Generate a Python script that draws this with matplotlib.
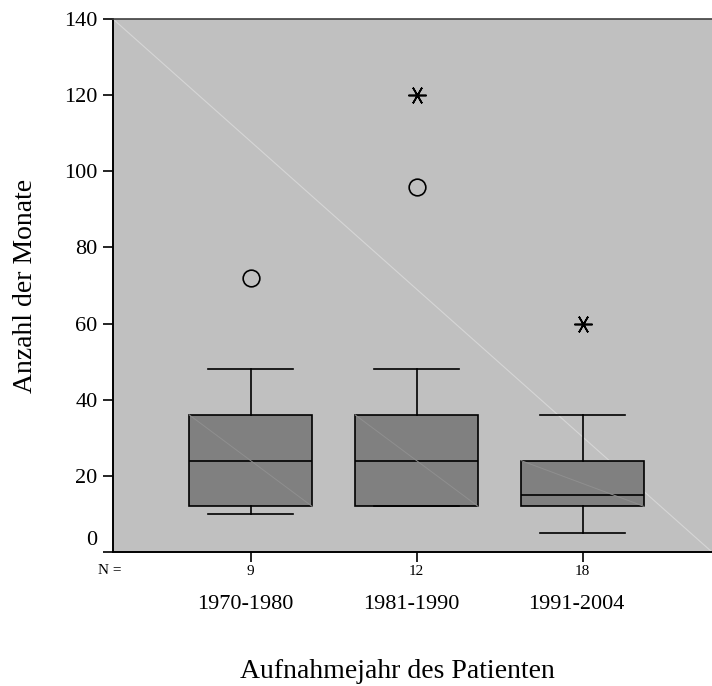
import matplotlib.pyplot as plt
from matplotlib.transforms import blended_transform_factory, ScaledTranslation

# data
groups = ['1970-1980', '1981-1990', '1991-2004']
n_values = [9, 12, 18]
whislo = [10, 12, 5]
q1 = [12, 12, 12]
med = [24, 24, 15]
q3 = [36, 36, 24]
whishi = [48, 48, 36]
outliers = [[72], [96], []]          # circles
extremes = [[], [120], [60]]         # asterisks

plt.rcParams['font.family'] = ['Liberation Serif', 'DejaVu Serif']

fig = plt.figure(figsize=(7.12, 6.86), dpi=100)
ax = fig.add_axes([0.1587, 0.1953, 0.8413, 0.7770])
ax.set_facecolor('#c0c0c0')

# faint diagonal across the plot area (SPSS rendering artefact)
ax.plot([0, 1], [1, 0], transform=ax.transAxes, color='#d6d6d6', lw=0.8, zorder=1)

positions = list(range(1, len(groups) + 1))
stats = []
for i in range(len(groups)):
    stats.append({'whislo': whislo[i], 'q1': q1[i], 'med': med[i], 'q3': q3[i],
                  'whishi': whishi[i], 'fliers': []})

ax.bxp(stats, positions=positions, widths=0.74, patch_artist=True, showfliers=False,
       boxprops=dict(facecolor='#808080', edgecolor='black', linewidth=1.2),
       medianprops=dict(color='black', linewidth=1.2),
       whiskerprops=dict(color='black', linewidth=1.2),
       capprops=dict(color='black', linewidth=1.2),
       capwidths=0.51, zorder=2)

# faint diagonals inside the boxes
w = 0.37
for p, a, b in zip(positions, q1, q3):
    ax.plot([p - w, p + w], [b, a], color='#8f8f8f', lw=0.7, zorder=3)

for p, vals in zip(positions, outliers):
    if vals:
        ax.plot([p] * len(vals), vals, linestyle='none', marker='o', markersize=12,
                markerfacecolor='none', markeredgecolor='black', markeredgewidth=1.2, zorder=4)
for p, vals in zip(positions, extremes):
    if vals:
        ax.plot([p] * len(vals), vals, linestyle='none', marker=(6, 2, 90), markersize=13,
                color='black', markeredgewidth=1.2, zorder=4)

ax.set_xlim(0.17, 3.78)
ax.set_ylim(0, 140)
ax.set_yticks(range(0, 141, 20))
ax.tick_params(axis='y', labelsize=16, length=7, width=1.2, direction='out', pad=4)
ax.set_xticks(positions)
ax.set_xticklabels([str(n) for n in n_values])
ax.tick_params(axis='x', labelsize=11, length=7, width=1.2, direction='out', pad=2.5)

# the "0" label sits a little above its tick in the reference
ylabels = ax.get_yticklabels()
ylabels[0].set_transform(ylabels[0].get_transform() + ScaledTranslation(0, 10 / 72, fig.dpi_scale_trans))

ax.spines['left'].set_linewidth(1.4)
ax.spines['bottom'].set_linewidth(1.4)
ax.spines['top'].set_color('#404040')
ax.spines['top'].set_linewidth(1.2)
ax.spines['right'].set_visible(False)

trans = blended_transform_factory(ax.transData, ax.transAxes)
fig.text(110 / 712, 1 - 571 / 686, 'N =', ha='center', va='center', fontsize=11)
for p, g in zip(positions, groups):
    ax.text(p - 0.035, -0.098, g, transform=trans, ha='center', va='center', fontsize=16)

ax.set_ylabel('Anzahl der Monate', fontsize=20, labelpad=19)
fig.text(397 / 712, 1 - 672 / 686, 'Aufnahmejahr des Patienten', ha='center', va='center', fontsize=20)

fig.savefig('out.png', dpi=100)
